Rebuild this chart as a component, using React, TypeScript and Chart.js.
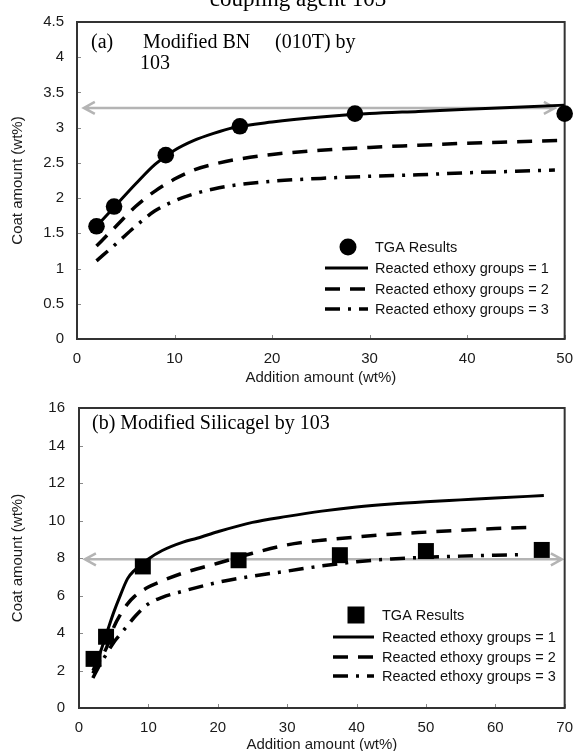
import React, { useEffect, useRef } from "react";
import { Chart, registerables } from "chart.js";

Chart.register(...registerables);

// ---------- Panel (a): Modified BN (010T) by 103 ----------
const aTgaX = [2, 3.8, 9.1, 16.7, 28.5, 50];
const aTgaY = [1.6, 1.88, 2.61, 3.02, 3.2, 3.2];
const aG1X = [2, 4, 6, 8, 10, 12, 14, 16, 20, 25, 30, 35, 40, 45, 50];
const aG1Y = [1.6, 1.9, 2.2, 2.48, 2.68, 2.82, 2.92, 3.0, 3.08, 3.15, 3.2, 3.23, 3.26, 3.29, 3.32];
const aG2X = [2, 4, 6, 8, 10, 12, 14, 16, 20, 25, 30, 35, 40, 45, 50];
const aG2Y = [1.32, 1.6, 1.88, 2.1, 2.27, 2.4, 2.48, 2.54, 2.62, 2.68, 2.72, 2.75, 2.78, 2.8, 2.82];
const aG3X = [2, 4, 6, 8, 10, 12, 14, 16, 20, 25, 30, 35, 40, 45, 49];
const aG3Y = [1.11, 1.35, 1.6, 1.82, 1.96, 2.06, 2.13, 2.18, 2.24, 2.28, 2.31, 2.33, 2.36, 2.38, 2.4];
const aArrow = { y: 3.28, from: 0.7, to: 49 };
const aXRange = [0, 50, 10];
const aYRange = [0, 4.5, 0.5];

// ---------- Panel (b): Modified Silicagel by 103 ----------
const bTgaX = [2.1, 3.9, 9.2, 23, 37.6, 50, 66.7];
const bTgaY = [2.62, 3.8, 7.55, 7.88, 8.15, 8.37, 8.43];
const bG1X = [2, 3, 4, 5, 6, 7, 8, 9, 10, 12, 15, 17, 20, 25, 30, 35, 40, 45, 50, 55, 60, 67];
const bG1Y = [2.0, 2.9, 4.0, 5.1, 6.05, 6.9, 7.35, 7.65, 7.95, 8.4, 8.85, 9.05, 9.4, 9.9, 10.22, 10.5, 10.72, 10.88, 11.0, 11.1, 11.2, 11.33];
const bG2X = [2, 3, 4, 5, 6, 7, 8, 10, 12, 15, 20, 25, 30, 35, 40, 45, 50, 55, 60, 65];
const bG2Y = [1.85, 2.55, 3.25, 4.3, 5.0, 5.55, 5.95, 6.45, 6.78, 7.2, 7.72, 8.25, 8.7, 8.95, 9.12, 9.27, 9.38, 9.48, 9.57, 9.63];
const bG3X = [2, 3, 4, 5, 6, 7, 8, 10, 12, 15, 20, 25, 30, 35, 40, 45, 50, 55, 60, 64];
const bG3Y = [1.6, 2.3, 2.9, 3.5, 3.95, 4.4, 4.85, 5.55, 5.9, 6.23, 6.7, 7.03, 7.3, 7.58, 7.8, 7.95, 8.04, 8.1, 8.15, 8.18];
const bArrow = { y: 7.93, from: 0.85, to: 69.6 };
const bXRange = [0, 70, 10];
const bYRange = [0, 16, 2];

const seriesLabels = [
  "TGA Results",
  "Reacted ethoxy groups = 1",
  "Reacted ethoxy groups = 2",
  "Reacted ethoxy groups = 3",
];
const xTitle = "Addition amount (wt%)";
const yTitle = "Coat amount (wt%)";

const SANS = "'Liberation Sans', Arial, sans-serif";
const SERIF = "'Liberation Serif', 'Times New Roman', serif";

const pts = (xs: number[], ys: number[]) => xs.map((x, i) => ({ x, y: ys[i] }));

const decorPlugin = {
  id: "decor",
  beforeDatasetsDraw(chart: any, _args: any, o: any) {
    const { ctx, chartArea: a, scales } = chart;
    const xs = scales.x;
    const ys = scales.y;
    ctx.save();
    // inward tick marks
    ctx.strokeStyle = "#8a8a8a";
    ctx.lineWidth = 1;
    ys.ticks.forEach((t: any) => {
      const p = Math.round(ys.getPixelForValue(t.value)) + 0.5;
      ctx.beginPath();
      ctx.moveTo(a.left, p);
      ctx.lineTo(a.left + 4, p);
      ctx.stroke();
    });
    xs.ticks.forEach((t: any) => {
      const p = Math.round(xs.getPixelForValue(t.value)) + 0.5;
      ctx.beginPath();
      ctx.moveTo(p, a.bottom);
      ctx.lineTo(p, a.bottom - 4);
      ctx.stroke();
    });
    // grey double arrow
    const y = ys.getPixelForValue(o.arrow.y);
    const x1 = xs.getPixelForValue(o.arrow.from);
    const x2 = xs.getPixelForValue(o.arrow.to);
    ctx.strokeStyle = "#b4b4b4";
    ctx.lineWidth = 2.5;
    ctx.beginPath();
    ctx.moveTo(x1, y);
    ctx.lineTo(x2, y);
    ctx.moveTo(x1 + 11, y - 6);
    ctx.lineTo(x1, y);
    ctx.lineTo(x1 + 11, y + 6);
    ctx.moveTo(x2 - 11, y - 6);
    ctx.lineTo(x2, y);
    ctx.lineTo(x2 - 11, y + 6);
    ctx.stroke();
    // frame
    ctx.strokeStyle = "#333333";
    ctx.lineWidth = 2;
    ctx.strokeRect(a.left, a.top, a.right - a.left, a.bottom - a.top);
    ctx.restore();
  },
  afterDraw(chart: any, _args: any, o: any) {
    const { ctx } = chart;
    const ds = chart.data.datasets;
    const L = o.legend;
    ctx.save();
    // legend
    ctx.font = `14.5px ${SANS}`;
    ctx.fillStyle = "#111";
    ctx.textBaseline = "middle";
    ctx.textAlign = "left";
    for (let i = 0; i < ds.length; i++) {
      const y = L.rows[i];
      const d = ds[i];
      if (i === 0) {
        ctx.fillStyle = "#000";
        ctx.beginPath();
        if (L.marker === "rect") {
          ctx.rect(L.markerX - L.size / 2, y - L.size / 2, L.size, L.size);
        } else {
          ctx.arc(L.markerX, y, L.size / 2, 0, Math.PI * 2);
        }
        ctx.fill();
      } else {
        ctx.strokeStyle = "#000";
        ctx.lineWidth = d.borderWidth;
        ctx.setLineDash(d.borderDash || []);
        ctx.beginPath();
        ctx.moveTo(L.lineX1, y);
        ctx.lineTo(L.lineX2, y);
        ctx.stroke();
        ctx.setLineDash([]);
      }
      ctx.fillStyle = "#111";
      ctx.fillText(d.label, L.textX, y + 0.5);
    }
    // serif annotations
    ctx.fillStyle = "#000";
    ctx.textBaseline = "middle";
    o.texts.forEach((t: any) => {
      ctx.font = `${t.size}px ${SERIF}`;
      ctx.fillText(t.text, t.x, t.y);
    });
    if (o.title) {
      ctx.font = `${o.title.size}px ${SERIF}`;
      ctx.textAlign = "center";
      ctx.textBaseline = "alphabetic";
      ctx.fillText(o.title.text, o.title.x, o.title.y);
    }
    ctx.restore();
  },
};

function buildConfig(p: any) {
  const tickFont = { family: SANS, size: 15 };
  return {
    type: "line",
    data: {
      datasets: [
        {
          label: seriesLabels[0],
          data: pts(p.tgaX, p.tgaY),
          showLine: false,
          pointStyle: p.marker === "rect" ? "rect" : "circle",
          pointRadius: p.marker === "rect" ? 11.3 : 8.3,
          backgroundColor: "#000",
          borderColor: "#000",
          borderWidth: 0,
          clip: false,
        },
        {
          label: seriesLabels[1],
          data: pts(p.g1X, p.g1Y),
          borderColor: "#000",
          borderWidth: 3,
          pointRadius: 0,
          cubicInterpolationMode: "monotone",
          fill: false,
        },
        {
          label: seriesLabels[2],
          data: pts(p.g2X, p.g2Y),
          borderColor: "#000",
          borderWidth: 3.5,
          borderDash: [15, 10],
          pointRadius: 0,
          cubicInterpolationMode: "monotone",
          fill: false,
        },
        {
          label: seriesLabels[3],
          data: pts(p.g3X, p.g3Y),
          borderColor: "#000",
          borderWidth: 3.5,
          borderDash: [15, 8, 3, 8],
          pointRadius: 0,
          cubicInterpolationMode: "monotone",
          fill: false,
        },
      ],
    },
    options: {
      responsive: false,
      animation: false,
      events: [],
      layout: { padding: p.padding },
      scales: {
        x: {
          type: "linear",
          min: p.xRange[0],
          max: p.xRange[1],
          ticks: {
            stepSize: p.xRange[2],
            padding: 11,
            font: tickFont,
            color: "#1a1a1a",
            maxRotation: 0,
            autoSkip: false,
            callback: (v: number) => String(v),
          },
          grid: { display: false, drawTicks: false, tickLength: 0 },
          border: { display: false },
          title: {
            display: true,
            text: xTitle,
            color: "#1a1a1a",
            font: { family: SANS, size: 15, lineHeight: p.xTitleLH },
            padding: { top: 0, bottom: 0 },
          },
          afterFit: (s: any) => {
            s.height = p.xHeight;
          },
        },
        y: {
          type: "linear",
          min: p.yRange[0],
          max: p.yRange[1],
          ticks: {
            stepSize: p.yRange[2],
            padding: p.yTickPad,
            font: tickFont,
            color: "#1a1a1a",
            autoSkip: false,
            callback: (v: number) => String(v),
          },
          grid: { display: false, drawTicks: false, tickLength: 0 },
          border: { display: false },
          title: {
            display: true,
            text: yTitle,
            color: "#1a1a1a",
            font: { family: SANS, size: 15, lineHeight: 1 },
            padding: { top: 10, bottom: 0 },
          },
          afterFit: (s: any) => {
            s.width = p.yWidth;
          },
        },
      },
      plugins: {
        legend: { display: false },
        tooltip: { enabled: false },
        decor: {
          arrow: p.arrow,
          legend: p.legend,
          texts: p.texts,
          title: p.title,
        },
      },
    },
    plugins: [decorPlugin],
  };
}

const configA = () =>
  buildConfig({
    tgaX: aTgaX, tgaY: aTgaY, g1X: aG1X, g1Y: aG1Y, g2X: aG2X, g2Y: aG2Y, g3X: aG3X, g3Y: aG3Y,
    arrow: aArrow, xRange: aXRange, yRange: aYRange, marker: "circle",
    padding: { left: 0, right: 12, top: 21, bottom: 0 },
    xHeight: 46, yWidth: 77, yTickPad: 13, xTitleLH: 1,
    legend: { markerX: 348, lineX1: 325, lineX2: 368, textX: 375, rows: [247, 268, 289, 309], marker: "circle", size: 17 },
    texts: [
      { text: "(a)", x: 91, y: 43, size: 20 },
      { text: "Modified BN", x: 143, y: 43, size: 20 },
      { text: "(010T) by", x: 275, y: 43, size: 20 },
      { text: "103", x: 140, y: 64, size: 20 },
    ],
    title: { text: "coupling agent 103", x: 298, y: 6, size: 23 },
  });

const configB = () =>
  buildConfig({
    tgaX: bTgaX, tgaY: bTgaY, g1X: bG1X, g1Y: bG1Y, g2X: bG2X, g2Y: bG2Y, g3X: bG3X, g3Y: bG3Y,
    arrow: bArrow, xRange: bXRange, yRange: bYRange, marker: "rect",
    padding: { left: 0, right: 8, top: 20, bottom: 0 },
    xHeight: 43, yWidth: 79, yTickPad: 14, xTitleLH: 0.8,
    legend: { markerX: 356, lineX1: 333, lineX2: 374, textX: 382, rows: [230, 252, 272, 291], marker: "rect", size: 17 },
    texts: [{ text: "(b) Modified Silicagel by 103", x: 92, y: 39, size: 20 }],
    title: null,
  });

function ChartCanvas(props: { make: () => any; top: number; width: number; height: number }) {
  const ref = useRef<HTMLCanvasElement>(null);
  useEffect(() => {
    const chart = new Chart(ref.current as HTMLCanvasElement, props.make());
    return () => chart.destroy();
  }, []);
  return (
    <canvas
      ref={ref}
      width={props.width}
      height={props.height}
      style={{ position: "absolute", left: 0, top: props.top, width: props.width, height: props.height }}
    />
  );
}

export default function App() {
  return (
    <div
      style={{
        position: "absolute",
        left: 0,
        top: 0,
        width: 584,
        height: 751,
        overflow: "hidden",
        background: "#fff",
      }}
    >
      <ChartCanvas make={configA} top={0} width={584} height={385} />
      <ChartCanvas make={configB} top={385} width={584} height={366} />
    </div>
  );
}
